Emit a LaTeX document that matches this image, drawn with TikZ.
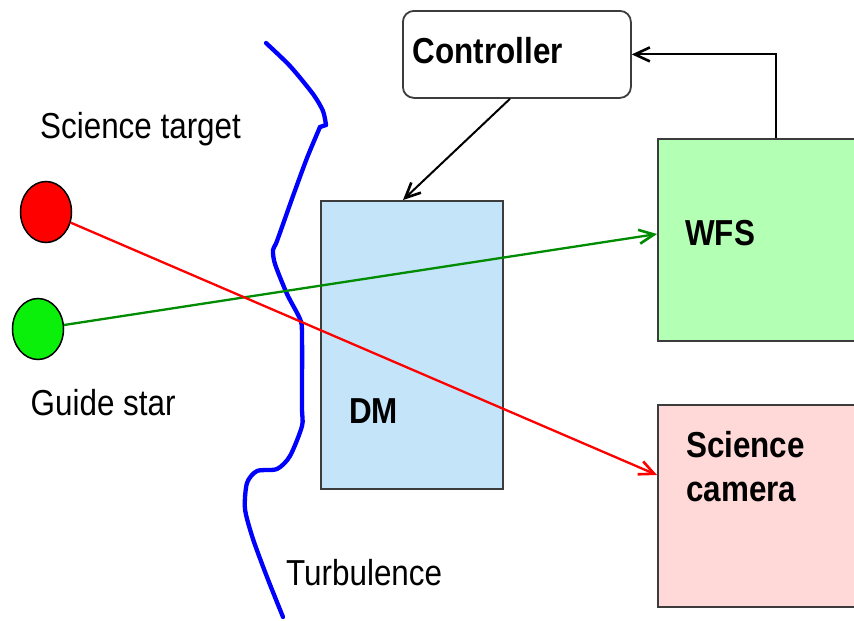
\documentclass[tikz,border=0pt]{standalone}
\usepackage{fontspec}
\setmainfont{Liberation Sans}
\usetikzlibrary{arrows.meta,shapes.geometric,calc}
\newcommand{\vst}[1]{\scalebox{1}[1.15]{#1}}
\definecolor{dmfill}{RGB}{196,228,250}
\definecolor{wfsfill}{RGB}{179,255,179}
\definecolor{camfill}{RGB}{255,216,216}
\definecolor{beamgreen}{RGB}{0,140,0}
\definecolor{gsgreen}{RGB}{10,240,10}
\definecolor{edgegray}{RGB}{60,60,60}
\begin{document}
\begin{tikzpicture}[x=1pt,y=-1pt,
  box/.style={draw=edgegray,line width=1.8pt,rectangle,inner sep=0pt,anchor=north west},
  lbl/.style={inner sep=0pt,anchor=base west,font=\fontsize{31.4}{37.4}\selectfont},
  blbl/.style={lbl,font=\fontsize{31.4}{37.4}\selectfont\bfseries},
  arr/.style={line width=2.3pt,-{Straight Barb[length=15pt,width=14pt,line width=2.6pt]}},
  star/.style={ellipse,draw=black,line width=1.5pt,inner sep=0pt,minimum width=51pt,minimum height=61pt},
  turb/.style={draw=blue,line width=4.3pt,line cap=round,line join=round}]
\path[use as bounding box,fill=white] (0,0) rectangle (854,621);

% boxes
\node[box,rounded corners=11pt,fill=white,minimum width=228pt,minimum height=87pt] (ctrl) at (402,10) {};
\node[box,fill=dmfill,minimum width=182pt,minimum height=288pt] (dm) at (320,200) {};
\node[box,fill=wfsfill,minimum width=220pt,minimum height=202pt] (wfs) at (657,138) {};
\node[box,fill=camfill,minimum width=220pt,minimum height=202pt] (cam) at (657,404) {};

% box labels
\node[blbl] (ctrlt) at (412.5,63) {\vst{Controller}};
\node[blbl] (dmt) at (349,423) {\vst{DM}};
\node[blbl] (wfst) at (685,245) {\vst{WFS}};
\node[blbl,anchor=north west,align=left] (camt) at (686,427) {\vst{\begin{tabular}{@{}l@{}}Science\\[1pt]camera\end{tabular}}};

% stars
\node[star,fill=red] (sci) at (46,212) {};
\node[star,fill=gsgreen] (gs) at (38,329) {};

% free labels
\node[lbl] (scit) at (40,138) {\vst{Science target}};
\node[lbl] (gst) at (30.5,415) {\vst{Guide star}};
\node[lbl] (turbt) at (286,585) {\vst{Turbulence}};

% turbulence screen
\draw[turb] plot[smooth,tension=0.45] coordinates {(266,43) (290,66) (313,94) (323,111) (326,125)};
\draw[turb] (326,125) -- (320,127);
\draw[turb] plot[smooth,tension=0.45] coordinates {(320,127) (307,158) (293,196) (277,241) (273,250) (275,264) (287,294) (300,319) (302,334) (302,407) (302,426) (290,456) (277,469) (257,471) (247,483) (245,509) (253,539) (267,577) (283,617)};

% beams
\draw[arr,draw=beamgreen] (gs) -- ($(wfs.north west)+(0,96)$) coordinate (gtip);
\draw[arr,draw=red] (sci) -- ($(cam.north west)+(0,71)$) coordinate (rtip);

% control loop
\draw[arr,draw=black,line width=2pt] ($(wfs.north west)+(119,0)$) |- (ctrl.east);
\draw[arr,draw=black,line width=2pt] ($(ctrl.south west)+(108,0)$) -- ($(dm.north west)+(83,0)$);
\end{tikzpicture}
\end{document}
